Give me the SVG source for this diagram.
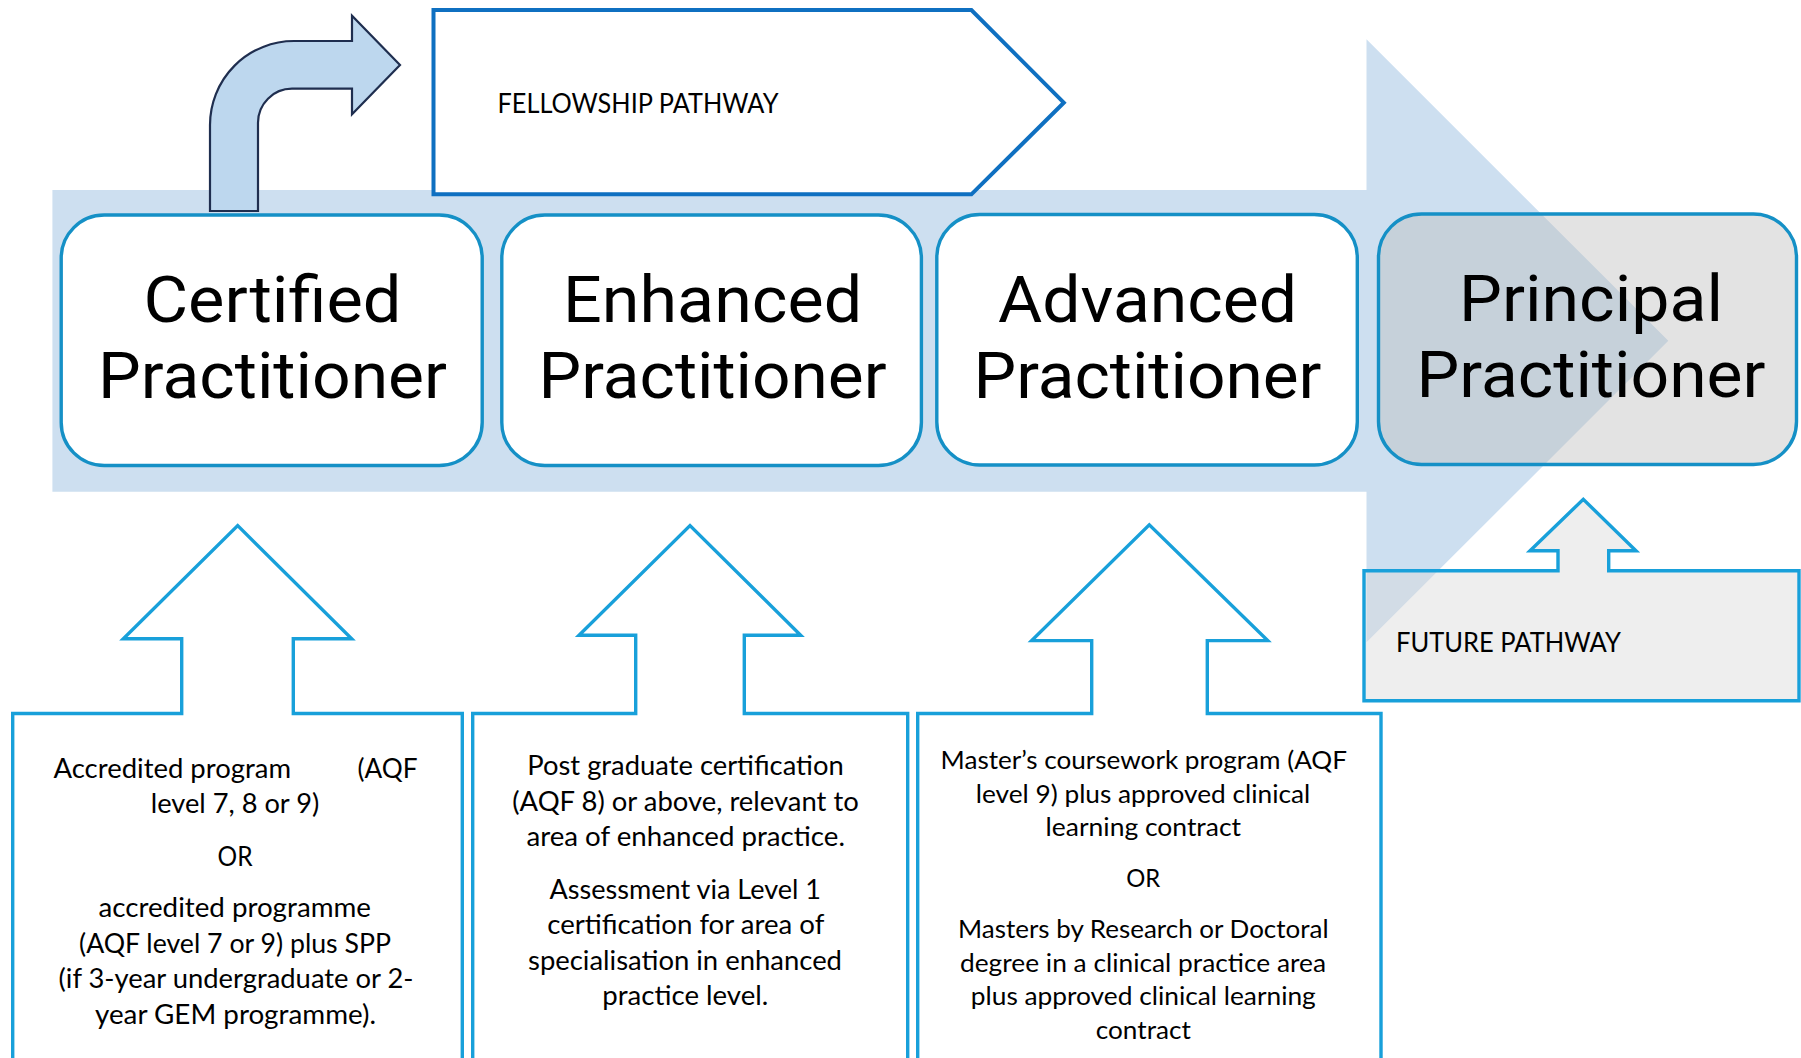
<svg xmlns="http://www.w3.org/2000/svg" width="1801" height="1058" viewBox="0 0 1801 1058">
  <style>
    .title { font-family: Roboto, "DejaVu Sans", sans-serif; font-size: 65px; fill: #000; text-anchor: middle; }
    .body { font-family: Lato, "Liberation Sans", sans-serif; font-size: 26.3px; fill: #000; }
    .body3 { font-family: Lato, "Liberation Sans", sans-serif; font-size: 24.9px; fill: #000; }
    .mid { text-anchor: middle; }
    .stage { fill: #ffffff; stroke: #1590c6; stroke-width: 3.4; }
    .req { fill: #ffffff; stroke: #18a0da; stroke-width: 3.4; stroke-linejoin: miter; }
  </style>

  <rect width="1801" height="1058" fill="#ffffff"/>

  <!-- progression band with large arrowhead -->
  <g id="progression-band">
    <polygon points="52.4,190 1366.5,190 1366.5,39.3 1668.3,340.8 1366.5,642.3 1366.5,491.7 52.4,491.7" fill="#cddff0"/>
  </g>

  <!-- stage nodes -->
  <g id="certified">
    <rect class="stage" x="61.2" y="215" width="421" height="250.5" rx="43" ry="43"/>
    <text class="title" x="272.5" y="321.5" textLength="258" lengthAdjust="spacingAndGlyphs">Certified</text>
    <text class="title" x="272.5" y="397.5" textLength="349" lengthAdjust="spacingAndGlyphs">Practitioner</text>
  </g>
  <g id="enhanced">
    <rect class="stage" x="501.8" y="215" width="419.6" height="250.5" rx="43" ry="43"/>
    <text class="title" x="712.6" y="321.5" textLength="299" lengthAdjust="spacingAndGlyphs">Enhanced</text>
    <text class="title" x="712.6" y="397.5" textLength="348" lengthAdjust="spacingAndGlyphs">Practitioner</text>
  </g>
  <g id="advanced">
    <rect class="stage" x="936.8" y="214.5" width="420.5" height="250.5" rx="43" ry="43"/>
    <text class="title" x="1147.5" y="321.5" textLength="299" lengthAdjust="spacingAndGlyphs">Advanced</text>
    <text class="title" x="1147.5" y="397.5" textLength="348" lengthAdjust="spacingAndGlyphs">Practitioner</text>
  </g>
  <g id="principal">
    <rect x="1378.5" y="214" width="418" height="250.5" rx="43" ry="43" fill="#bfbfbf" fill-opacity="0.43" stroke="#1590c6" stroke-width="3.4"/>
    <text class="title" x="1591" y="321" textLength="264" lengthAdjust="spacingAndGlyphs">Principal</text>
    <text class="title" x="1591" y="397" textLength="349" lengthAdjust="spacingAndGlyphs">Practitioner</text>
  </g>

  <!-- fellowship pathway -->
  <g id="fellowship-pathway">
    <polygon points="433.5,10 971.4,10 1063.8,102.7 971.4,194.3 433.5,194.3" fill="#ffffff" stroke="#0f70c1" stroke-width="4"/>
    <text class="body" x="497.5" y="113" textLength="281" lengthAdjust="spacingAndGlyphs">FELLOWSHIP PATHWAY</text>
  </g>

  <!-- connectors -->
  <g id="connectors">
    <!-- bent arrow from Certified up to the fellowship pathway -->
    <path d="M210,211 L210,125 A84,84 0 0 1 294,41 L352,41 L352,15.7 L400,65 L352,114.3 L352,88.7 L292,88.7 A34,34 0 0 0 258,122.7 L258,211 Z" fill="#bdd7ee" stroke="#1f2e4f" stroke-width="2.2" stroke-linejoin="miter"/>
  </g>

  <!-- entry requirement boxes, each with an arrow into its stage -->
  <g id="req-certified">
    <path class="req" d="M12.7,1075 L12.7,713.5 L181.7,713.5 L181.7,638.8 L123.3,638.8 L237.7,525.6 L351.7,638.8 L293.3,638.8 L293.3,713.5 L462.3,713.5 L462.3,1075"/>
    <text class="body" x="53.5" y="777.6" textLength="237.5" lengthAdjust="spacingAndGlyphs">Accredited program</text>
    <text class="body" x="357.5" y="777.6" textLength="60" lengthAdjust="spacingAndGlyphs">(AQF</text>
    <text class="body mid" x="235" y="813.2" textLength="168.5" lengthAdjust="spacingAndGlyphs">level 7, 8 or 9)</text>
    <text class="body mid" x="235" y="865.5" textLength="35" lengthAdjust="spacingAndGlyphs">OR</text>
    <text class="body mid" x="234.7" y="917" textLength="272.5" lengthAdjust="spacingAndGlyphs">accredited programme</text>
    <text class="body mid" x="235" y="952.7" textLength="312" lengthAdjust="spacingAndGlyphs">(AQF level 7 or 9) plus SPP</text>
    <text class="body mid" x="236" y="988.3" textLength="355" lengthAdjust="spacingAndGlyphs">(if 3-year undergraduate or 2-</text>
    <text class="body mid" x="235.5" y="1023.8" textLength="281" lengthAdjust="spacingAndGlyphs">year GEM programme).</text>
  </g>

  <g id="req-enhanced">
    <path class="req" d="M472.7,1075 L472.7,713.5 L635.7,713.5 L635.7,635.2 L579,635.2 L690,525.6 L800.7,635.2 L744.3,635.2 L744.3,713.5 L907.7,713.5 L907.7,1075"/>
    <text class="body mid" x="685.5" y="774.7" textLength="316.5" lengthAdjust="spacingAndGlyphs">Post graduate certification</text>
    <text class="body mid" x="685.5" y="810.7" textLength="346.5" lengthAdjust="spacingAndGlyphs">(AQF 8) or above, relevant to</text>
    <text class="body mid" x="685.7" y="845.9" textLength="318.5" lengthAdjust="spacingAndGlyphs">area of enhanced practice.</text>
    <text class="body mid" x="685.3" y="898.6" textLength="271.5" lengthAdjust="spacingAndGlyphs">Assessment via Level 1</text>
    <text class="body mid" x="685.8" y="934.2" textLength="277" lengthAdjust="spacingAndGlyphs">certification for area of</text>
    <text class="body mid" x="685" y="969.8" textLength="314" lengthAdjust="spacingAndGlyphs">specialisation in enhanced</text>
    <text class="body mid" x="685.3" y="1005.3" textLength="166" lengthAdjust="spacingAndGlyphs">practice level.</text>
  </g>

  <g id="req-advanced">
    <path class="req" d="M917.7,1075 L917.7,713.5 L1091.7,713.5 L1091.7,640.6 L1031.7,640.6 L1149.3,524.9 L1267.7,640.6 L1207.3,640.6 L1207.3,713.5 L1381,713.5 L1381,1075"/>
    <text class="body3 mid" x="1143.8" y="768.7" textLength="406.5" lengthAdjust="spacingAndGlyphs">Master’s coursework program (AQF</text>
    <text class="body3 mid" x="1143" y="802.5" textLength="334.5" lengthAdjust="spacingAndGlyphs">level 9) plus approved clinical</text>
    <text class="body3 mid" x="1143.3" y="836.3" textLength="195.5" lengthAdjust="spacingAndGlyphs">learning contract</text>
    <text class="body3 mid" x="1143.3" y="886.8" textLength="34" lengthAdjust="spacingAndGlyphs">OR</text>
    <text class="body3 mid" x="1143.3" y="937.7" textLength="370.5" lengthAdjust="spacingAndGlyphs">Masters by Research or Doctoral</text>
    <text class="body3 mid" x="1143" y="971.5" textLength="366" lengthAdjust="spacingAndGlyphs">degree in a clinical practice area</text>
    <text class="body3 mid" x="1143.3" y="1005.3" textLength="345" lengthAdjust="spacingAndGlyphs">plus approved clinical learning</text>
    <text class="body3 mid" x="1143.3" y="1039.1" textLength="95" lengthAdjust="spacingAndGlyphs">contract</text>
  </g>

  <g id="future-pathway">
    <path d="M1364,570.7 L1558,570.7 L1558,550.7 L1530,550.7 L1583.3,499.3 L1636,550.7 L1608.7,550.7 L1608.7,570.7 L1799,570.7 L1799,700.7 L1364,700.7 Z" fill="#d9d9d9" fill-opacity="0.45" stroke="#18a0da" stroke-width="3.4"/>
    <text class="body" x="1396" y="651.7" textLength="225" lengthAdjust="spacingAndGlyphs">FUTURE PATHWAY</text>
  </g>
</svg>
